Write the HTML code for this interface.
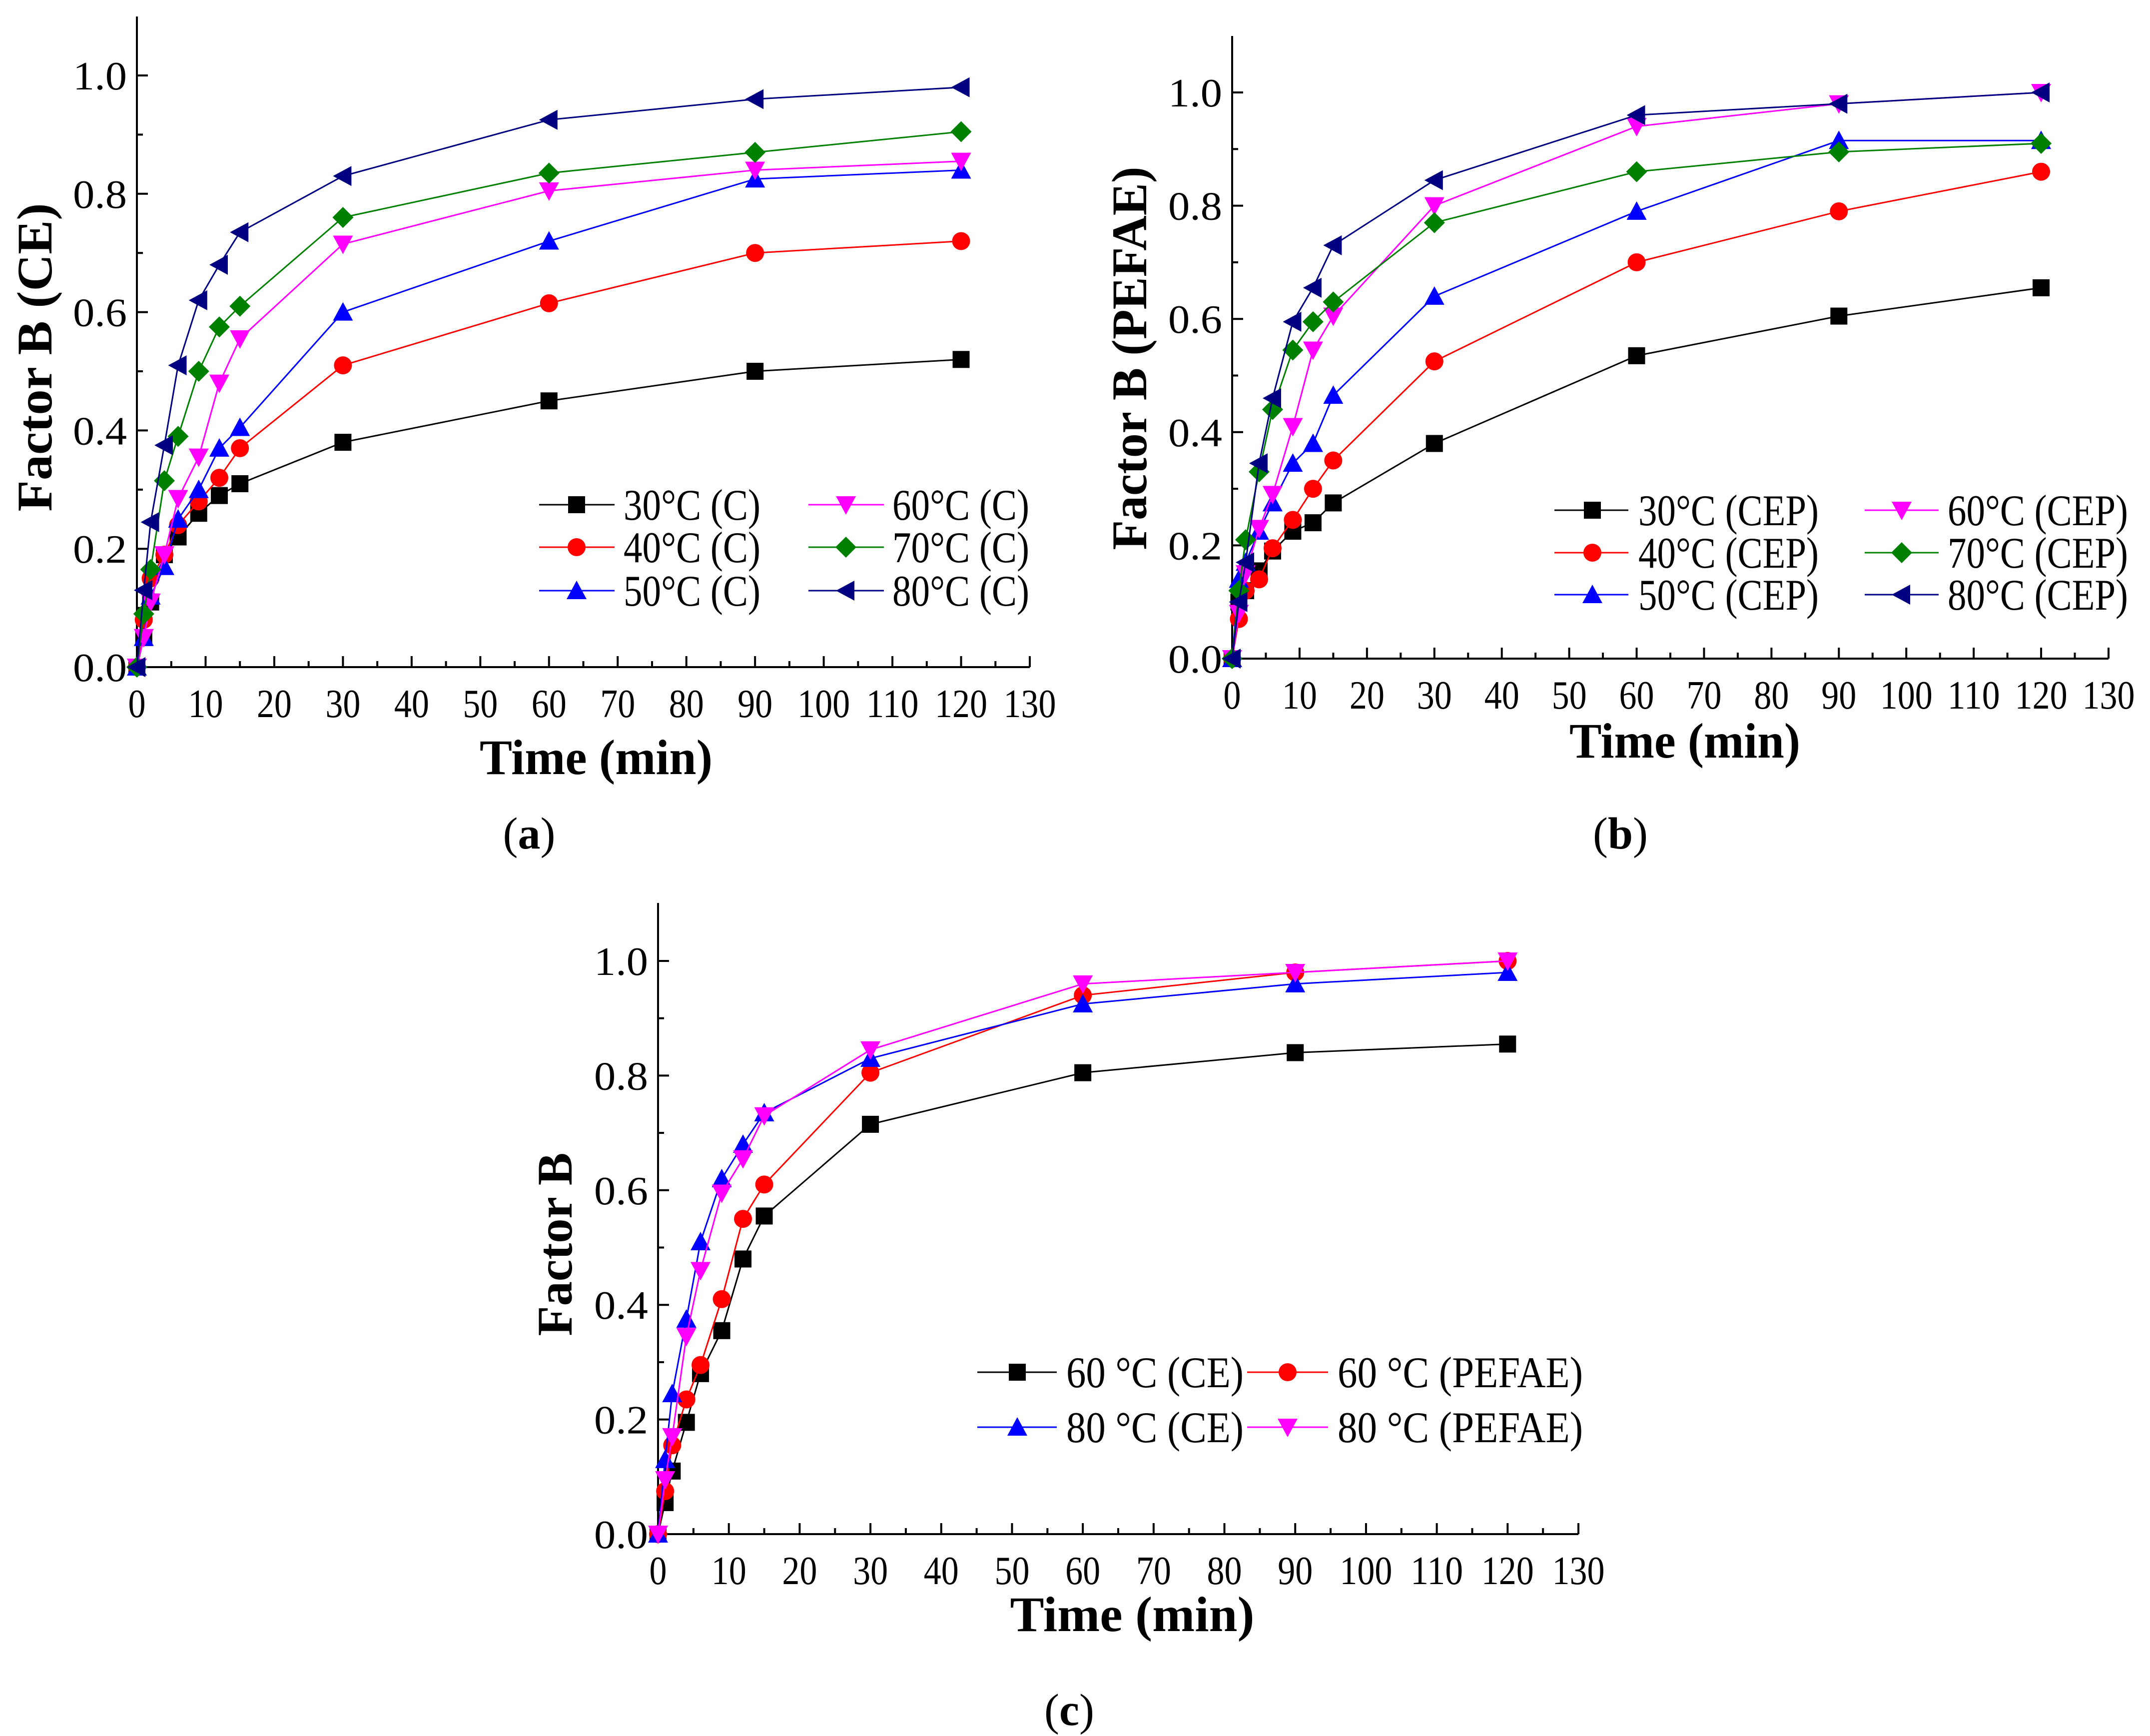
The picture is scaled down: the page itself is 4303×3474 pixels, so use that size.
<!DOCTYPE html>
<html><head><meta charset="utf-8"><style>
html,body{margin:0;padding:0;background:#fff;}
svg{display:block;font-family:"Liberation Serif",serif;}
</style></head><body>
<svg id="fig" width="4303" height="3474" viewBox="0 0 4303 3474" xmlns="http://www.w3.org/2000/svg"></svg>
<script>
// shared time axis
const timesMin = [0,1,2,4,6,9,12,15,30,60,90,120];
const xTicks = [0,10,20,30,40,50,60,70,80,90,100,110,120,130];
const yTicks = [0.0,0.2,0.4,0.6,0.8,1.0];
const yTickLabels = ["0.0","0.2","0.4","0.6","0.8","1.0"];
// panel (a)
const aLabels = ["30°C (C)","40°C (C)","50°C (C)","60°C (C)","70°C (C)","80°C (C)"];
const a30 = [0,0.05,0.11,0.19,0.22,0.26,0.29,0.31,0.38,0.45,0.50,0.52];
const a40 = [0,0.08,0.15,0.19,0.24,0.28,0.32,0.37,0.51,0.615,0.70,0.72];
const a50 = [0,0.05,0.12,0.17,0.25,0.30,0.37,0.405,0.60,0.72,0.825,0.84];
const a60 = [0,0.05,0.11,0.19,0.285,0.355,0.48,0.555,0.715,0.805,0.84,0.855];
const a70 = [0,0.09,0.165,0.315,0.39,0.50,0.575,0.61,0.76,0.835,0.87,0.905];
const a80 = [0,0.13,0.245,0.375,0.51,0.62,0.68,0.735,0.83,0.925,0.96,0.98];
// panel (b)
const bLabels = ["30°C (CEP)","40°C (CEP)","50°C (CEP)","60°C (CEP)","70°C (CEP)","80°C (CEP)"];
const b30 = [0,0.10,0.12,0.155,0.19,0.225,0.24,0.275,0.38,0.535,0.605,0.655];
const b40 = [0,0.07,0.12,0.14,0.195,0.245,0.30,0.35,0.525,0.70,0.79,0.86];
const b50 = [0,0.14,0.17,0.225,0.275,0.345,0.38,0.465,0.64,0.79,0.915,0.915];
const b60 = [0,0.08,0.15,0.23,0.29,0.41,0.545,0.605,0.80,0.94,0.98,1.0];
const b70 = [0,0.12,0.21,0.33,0.44,0.545,0.595,0.63,0.77,0.86,0.895,0.91];
const b80 = [0,0.10,0.17,0.345,0.46,0.595,0.655,0.73,0.845,0.96,0.98,1.0];
// panel (c)
const cLabels = ["60 °C (CE)","60 °C (PEFAE)","80 °C (CE)","80 °C (PEFAE)"];
const c60CE = [0,0.055,0.11,0.195,0.28,0.355,0.48,0.555,0.715,0.805,0.84,0.855];
const c60PE = [0,0.075,0.155,0.235,0.295,0.41,0.55,0.61,0.805,0.94,0.98,1.0];
const c80CE = [0,0.13,0.245,0.375,0.51,0.62,0.68,0.735,0.83,0.925,0.96,0.98];
const c80PE = [0,0.095,0.17,0.345,0.46,0.595,0.655,0.73,0.845,0.96,0.98,1.0];

const NS="http://www.w3.org/2000/svg";
const svg=document.getElementById('fig');
function el(tag,attrs,parent){const e=document.createElementNS(NS,tag);for(const k in attrs)e.setAttribute(k,attrs[k]);(parent||svg).appendChild(e);return e;}

function marker(g,type,cx,cy,color){
  const s=17;let e;
  if(type==='square') e=el('rect',{x:cx-s,y:cy-s,width:2*s,height:2*s,fill:color},g);
  else if(type==='circle') e=el('circle',{cx:cx,cy:cy,r:s+1,fill:color},g);
  else if(type==='up') e=el('polygon',{points:`${cx},${cy-s-3} ${cx-s-3},${cy+s} ${cx+s+3},${cy+s}`,fill:color},g);
  else if(type==='down') e=el('polygon',{points:`${cx},${cy+s+3} ${cx-s-3},${cy-s} ${cx+s+3},${cy-s}`,fill:color},g);
  else if(type==='diamond') e=el('polygon',{points:`${cx},${cy-s-4} ${cx+s+4},${cy} ${cx},${cy+s+4} ${cx-s-4},${cy}`,fill:color},g);
  else if(type==='left') e=el('polygon',{points:`${cx-s-3},${cy} ${cx+s},${cy-s-3} ${cx+s},${cy+s+3}`,fill:color},g);
  return e;
}

function panel(p){
  const g=el('g',{});
  
  
  const X=v=>p.x0+(v/130)*(p.x1-p.x0);
  const Y=v=>p.y0-(v/1.0)*(p.y0-p.y1);
  const ax=el('path',{d:`M${p.x0},${p.top} L${p.x0},${p.y0} L${p.x1},${p.y0}`,stroke:'#000','stroke-width':4,fill:'none'},g);
  
  
  for(let v=0;v<=130;v+=5){
    const maj=v%10===0;
    el('line',{x1:X(v),x2:X(v),y1:p.y0,y2:p.y0-(maj?22:12),stroke:'#000','stroke-width':4},g);
  }
  xTicks.forEach(v=>{
    const t=el('text',{x:X(v),y:p.y0+100,'font-size':80,'text-anchor':'middle',textLength:String(v).length*35,lengthAdjust:'spacingAndGlyphs'},g);
    t.textContent=v;
    
    
  });
  for(let i=0;i<=10;i++){
    const v=i*0.1;const maj=i%2===0;
    el('line',{x1:p.x0,x2:p.x0+(maj?22:12),y1:Y(v),y2:Y(v),stroke:'#000','stroke-width':4},g);
  }
  yTicks.forEach((v,i)=>{
    const t=el('text',{x:p.x0-20,y:Y(v)+28,'font-size':80,'text-anchor':'end',textLength:108,lengthAdjust:'spacingAndGlyphs'},g);
    t.textContent=yTickLabels[i];
    
    
  });
  const xt=el('text',{x:p.xtx,y:p.xty+34,'font-size':100,'font-weight':'bold','text-anchor':'middle',textLength:p.xtw,lengthAdjust:'spacingAndGlyphs'},g);
  xt.textContent='Time (min)';
  
  
  const yt=el('text',{x:0,y:0,'font-size':100,'font-weight':'bold','text-anchor':'middle',textLength:p.ytw,lengthAdjust:'spacingAndGlyphs',transform:`translate(${p.ytx+34},${p.yty}) rotate(-90)`},g);
  yt.textContent=p.ytitle;
  
  
  p.series.forEach(s=>{
    const sg=el('g',{},g);
    
    
    const d=s.vals.map((v,i)=>(i?'L':'M')+X(timesMin[i])+','+Y(v)).join(' ');
    el('path',{d:d,stroke:s.color,'stroke-width':3,fill:'none'},sg);
    s.vals.forEach((v,i)=>{
      const m=marker(sg,s.m,X(timesMin[i]),Y(v),s.color);
      
      
    });
  });
  const lg=el('g',{},g);
  
  
  p.series.forEach((s,i)=>{
    const L=p.leg[i];
    const eg=el('g',{},lg);
    
    
    el('line',{x1:L.l0,x2:L.l1,y1:L.y,y2:L.y,stroke:s.color,'stroke-width':3},eg);
    marker(eg,s.m,L.mx,L.y,s.color);
    const t=el('text',{x:L.tx,y:L.y+30,'font-size':88,textLength:L.tw,lengthAdjust:'spacingAndGlyphs'},eg);
    t.textContent=s.label;
  });
  const pl=el('text',{x:p.plx,y:p.ply+30,'font-size':90,'text-anchor':'middle'},g);
  pl.innerHTML='(<tspan font-weight="bold">'+p.pl+'</tspan>)';
  
  
}

function legRows(c1,c2,rows,tw1,tw2,order){
  const out=[];
  order.forEach(([c,r])=>{
    const C=c===0?c1:c2;
    out.push({l0:C[0],l1:C[1],mx:C[2],tx:C[3],y:rows[r],tw:c===0?tw1:tw2});
  });
  return out;
}

panel({name:'panel-a',x0:274,x1:2061,y0:1335,y1:151,top:33,pl:'a',plx:1059,ply:1668,
  xtx:1193,xty:1515,xtw:466,ytx:69,yty:715,ytw:617,ytitle:'Factor B (CE)',
  series:[
    {key:'30c',label:aLabels[0],vals:a30,color:'#000000',m:'square'},
    {key:'40c',label:aLabels[1],vals:a40,color:'#ff0000',m:'circle'},
    {key:'50c',label:aLabels[2],vals:a50,color:'#0000ff',m:'up'},
    {key:'60c',label:aLabels[3],vals:a60,color:'#ff00ff',m:'down'},
    {key:'70c',label:aLabels[4],vals:a70,color:'#008000',m:'diamond'},
    {key:'80c',label:aLabels[5],vals:a80,color:'#000080',m:'left'}],
  leg:legRows([1079,1230,1154,1248],[1618,1769,1693,1786],[1010,1095,1182],274,274,[[0,0],[0,1],[0,2],[1,0],[1,1],[1,2]])
});
panel({name:'panel-b',x0:2466,x1:4220,y0:1318,y1:185,top:72,pl:'b',plx:3243,ply:1668,
  xtx:3372,xty:1482,xtw:462,ytx:2260,yty:717,ytw:767,ytitle:'Factor B (PEFAE)',
  series:[
    {key:'30c',label:bLabels[0],vals:b30,color:'#000000',m:'square'},
    {key:'40c',label:bLabels[1],vals:b40,color:'#ff0000',m:'circle'},
    {key:'50c',label:bLabels[2],vals:b50,color:'#0000ff',m:'up'},
    {key:'60c',label:bLabels[3],vals:b60,color:'#ff00ff',m:'down'},
    {key:'70c',label:bLabels[4],vals:b70,color:'#008000',m:'diamond'},
    {key:'80c',label:bLabels[5],vals:b80,color:'#000080',m:'left'}],
  leg:legRows([3111,3259,3187,3279],[3732,3880,3806,3898],[1021,1106,1190],361,361,[[0,0],[0,1],[0,2],[1,0],[1,1],[1,2]])
});
panel({name:'panel-c',x0:1317,x1:3159,y0:3070,y1:1923,top:1807,pl:'c',plx:2140,ply:3422,
  xtx:2266,xty:3230,xtw:489,ytx:1110,yty:2490,ytw:367,ytitle:'Factor B',
  series:[
    {key:'60c-ce',label:cLabels[0],vals:c60CE,color:'#000000',m:'square'},
    {key:'60c-pefae',label:cLabels[1],vals:c60PE,color:'#ff0000',m:'circle'},
    {key:'80c-ce',label:cLabels[2],vals:c80CE,color:'#0000ff',m:'up'},
    {key:'80c-pefae',label:cLabels[3],vals:c80PE,color:'#ff00ff',m:'down'}],
  leg:[
    {l0:1956,l1:2115,mx:2036,tx:2134,y:2746,tw:355},
    {l0:2496,l1:2658,mx:2577,tx:2677,y:2746,tw:491},
    {l0:1956,l1:2115,mx:2036,tx:2134,y:2856,tw:355},
    {l0:2496,l1:2658,mx:2577,tx:2677,y:2856,tw:491}]
});
</script>
</body></html>
